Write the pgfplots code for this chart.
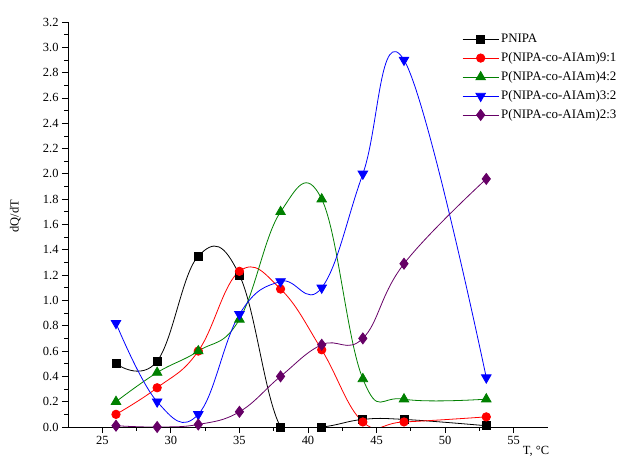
\documentclass[border=0pt]{standalone}
\usepackage{fontspec}
\setmainfont{Liberation Serif}
\usepackage{pgfplots}
\pgfplotsset{compat=1.18}
\definecolor{cpurple}{RGB}{102,0,102}
\definecolor{cgreen}{RGB}{0,128,0}
\begin{document}
\begin{tikzpicture}
\path[use as bounding box] (-68bp,-33bp) rectangle (555bp,427bp);
\begin{axis}[
  at={(0,0)}, anchor=south west,
  width=480bp, height=405bp, scale only axis,
  xmin=22.5, xmax=57.5, ymin=0, ymax=3.2,
  axis x line*=bottom, axis y line*=left,
  xtick={25,30,...,55}, ytick={0,0.2,...,3.2},
  minor x tick num=1, minor y tick num=1,
  tick align=outside,
  major tick length=6bp, minor tick length=3.5bp,
  tick style={black, line width=0.8bp},
  axis line style={line width=0.8bp},
  /pgf/number format/assume math mode=true,
  yticklabel style={/pgf/number format/.cd, fixed, fixed zerofill, precision=1},
  ticklabel style={font=\fontsize{12.5}{14}\selectfont},
  label style={font=\fontsize{12.5}{14}\selectfont},
  xlabel={T, \textdegree C},
  x label style={at={(axis description cs:0.975,0)}, anchor=north, yshift=-16bp},
  ylabel={dQ/dT},
  y label style={at={(axis description cs:-0.11,0.52)}, anchor=center},
  legend style={draw=none, fill=none, at={(rel axis cs:0.821,0.975)}, anchor=north west,
    font=\fontsize{13}{14}\selectfont, row sep=4.5bp, inner sep=0pt},
  legend cell align=left,
  legend image code/.code={\draw[mark repeat=2,mark phase=2] plot coordinates {(0bp,0bp)(18bp,0bp)(36bp,0bp)};},
  every axis plot/.append style={line width=0.8bp, smooth, tension=0.7},
]
\addplot[black, mark=square*, mark size=4bp, mark options={solid}] coordinates {
(26,0.50)(29,0.52)(32,1.35)(35,1.20)(38,0.00)(41,0.00)(44,0.06)(47,0.06)(53,0.01)};
\addlegendentry{PNIPA}
\addplot[red, mark=*, mark size=4.2bp] coordinates {
(26,0.10)(29,0.31)(32,0.60)(35,1.23)(38,1.09)(41,0.61)(44,0.04)(47,0.04)(53,0.08)};
\addlegendentry{P(NIPA-co-AIAm)9:1}
\addplot[cgreen, mark=triangle*, mark size=5.5bp] coordinates {
(26,0.20)(29,0.43)(32,0.60)(35,0.85)(38,1.70)(41,1.80)(44,0.38)(47,0.22)(53,0.22)};
\addlegendentry{P(NIPA-co-AIAm)4:2}
\addplot[blue, mark=triangle*, mark size=5.5bp, mark options={rotate=180}] coordinates {
(26,0.82)(29,0.20)(32,0.10)(35,0.89)(38,1.15)(41,1.10)(44,2.00)(47,2.90)(53,0.39)};
\addlegendentry{P(NIPA-co-AIAm)3:2}
\addplot[cpurple, mark=diamond*, mark size=5.5bp] coordinates {
(26,0.01)(29,0.00)(32,0.02)(35,0.12)(38,0.40)(41,0.65)(44,0.70)(47,1.29)(53,1.96)};
\addlegendentry{P(NIPA-co-AIAm)2:3}
\end{axis}
\end{tikzpicture}
\end{document}
